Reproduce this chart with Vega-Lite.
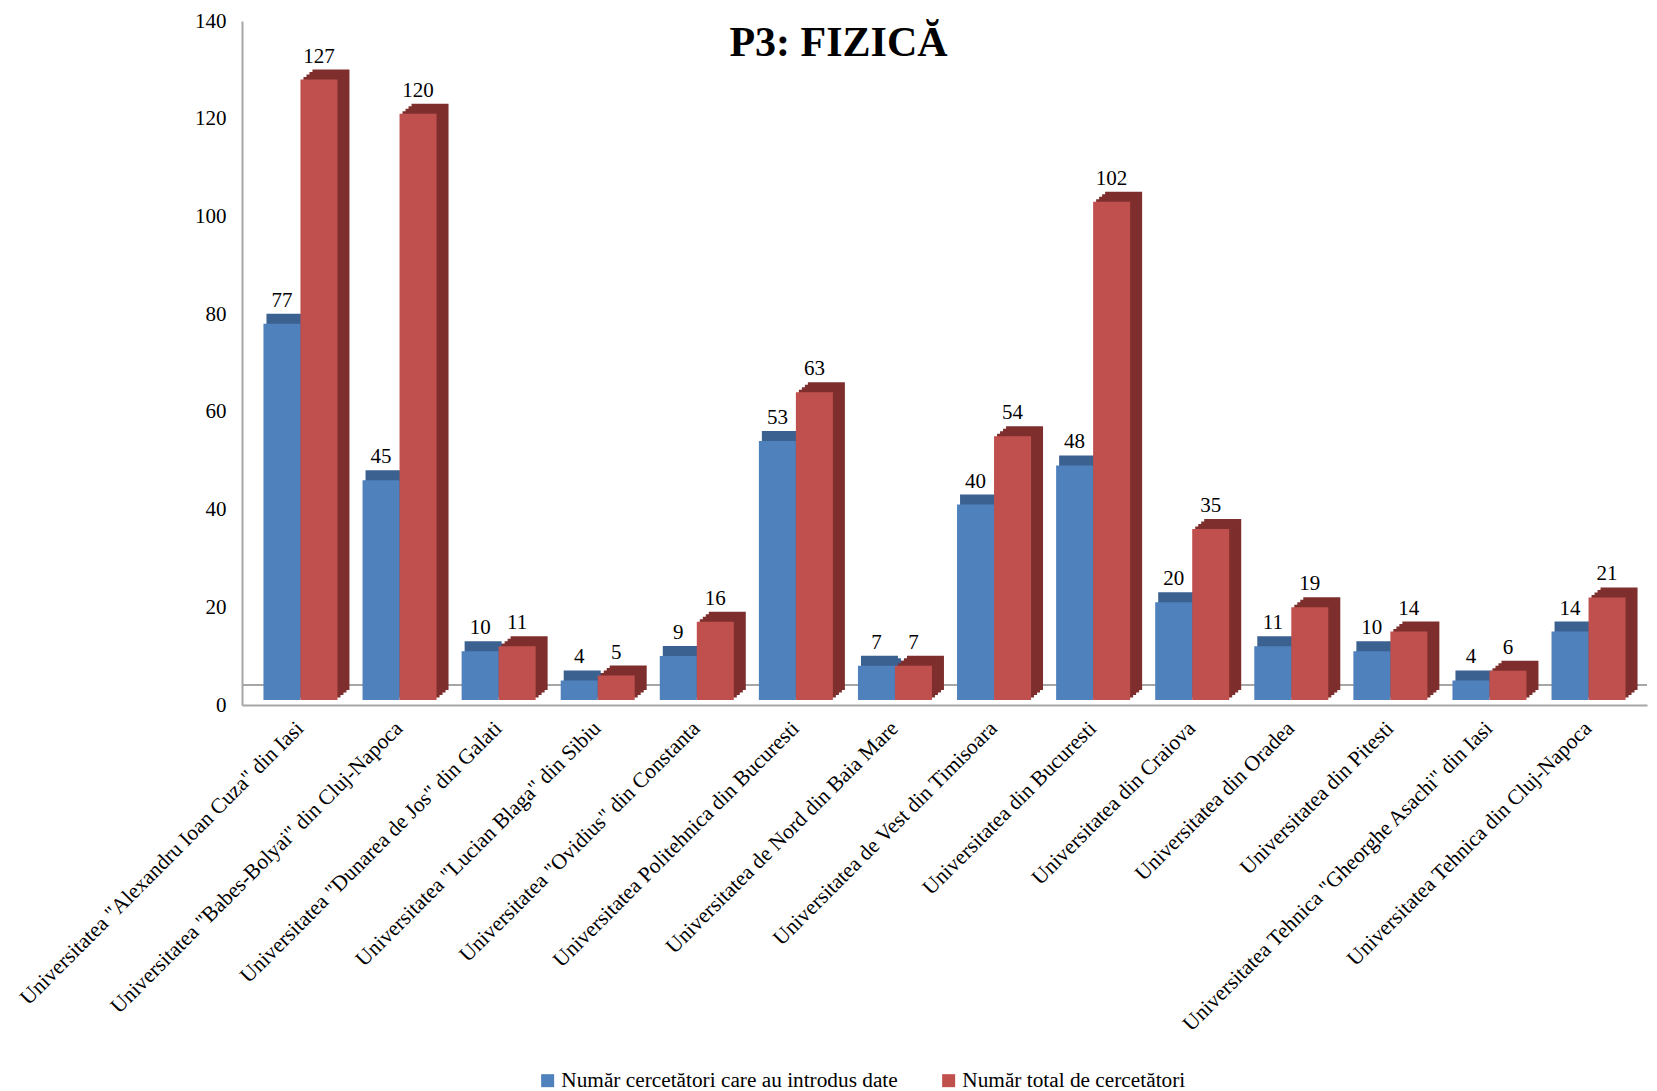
{
  "$schema": "https://vega.github.io/schema/vega-lite/v6.json",
  "autosize": {"type": "none"},
  "width": 1405,
  "height": 684,
  "padding": {"left": 242, "top": 21, "right": 10, "bottom": 386},
  "background": "white",
  "title": {
    "text": "P3: FIZICĂ",
    "font": "Liberation Serif",
    "fontSize": 42,
    "fontWeight": "bold",
    "color": "black",
    "anchor": "middle",
    "orient": "top",
    "offset": -49,
    "baseline": "alphabetic",
    "dx": -106,
    "dy": 39
  },
  "config": {
    "view": {"stroke": null},
    "font": "Liberation Serif"
  },
  "data": {
    "values": [
      {"u": "Universitatea \"Alexandru Ioan Cuza\" din Iasi", "s": "Număr cercetători care au introdus date", "v": 77},
      {"u": "Universitatea \"Alexandru Ioan Cuza\" din Iasi", "s": "Număr total de cercetători", "v": 127},
      {"u": "Universitatea \"Babes-Bolyai\" din Cluj-Napoca", "s": "Număr cercetători care au introdus date", "v": 45},
      {"u": "Universitatea \"Babes-Bolyai\" din Cluj-Napoca", "s": "Număr total de cercetători", "v": 120},
      {"u": "Universitatea \"Dunarea de Jos\" din Galati", "s": "Număr cercetători care au introdus date", "v": 10},
      {"u": "Universitatea \"Dunarea de Jos\" din Galati", "s": "Număr total de cercetători", "v": 11},
      {"u": "Universitatea \"Lucian Blaga\" din Sibiu", "s": "Număr cercetători care au introdus date", "v": 4},
      {"u": "Universitatea \"Lucian Blaga\" din Sibiu", "s": "Număr total de cercetători", "v": 5},
      {"u": "Universitatea \"Ovidius\" din Constanta", "s": "Număr cercetători care au introdus date", "v": 9},
      {"u": "Universitatea \"Ovidius\" din Constanta", "s": "Număr total de cercetători", "v": 16},
      {"u": "Universitatea Politehnica din Bucuresti", "s": "Număr cercetători care au introdus date", "v": 53},
      {"u": "Universitatea Politehnica din Bucuresti", "s": "Număr total de cercetători", "v": 63},
      {"u": "Universitatea de Nord din Baia Mare", "s": "Număr cercetători care au introdus date", "v": 7},
      {"u": "Universitatea de Nord din Baia Mare", "s": "Număr total de cercetători", "v": 7},
      {"u": "Universitatea de Vest din Timisoara", "s": "Număr cercetători care au introdus date", "v": 40},
      {"u": "Universitatea de Vest din Timisoara", "s": "Număr total de cercetători", "v": 54},
      {"u": "Universitatea din Bucuresti", "s": "Număr cercetători care au introdus date", "v": 48},
      {"u": "Universitatea din Bucuresti", "s": "Număr total de cercetători", "v": 102},
      {"u": "Universitatea din Craiova", "s": "Număr cercetători care au introdus date", "v": 20},
      {"u": "Universitatea din Craiova", "s": "Număr total de cercetători", "v": 35},
      {"u": "Universitatea din Oradea", "s": "Număr cercetători care au introdus date", "v": 11},
      {"u": "Universitatea din Oradea", "s": "Număr total de cercetători", "v": 19},
      {"u": "Universitatea din Pitesti", "s": "Număr cercetători care au introdus date", "v": 10},
      {"u": "Universitatea din Pitesti", "s": "Număr total de cercetători", "v": 14},
      {"u": "Universitatea Tehnica \"Gheorghe Asachi\" din Iasi", "s": "Număr cercetători care au introdus date", "v": 4},
      {"u": "Universitatea Tehnica \"Gheorghe Asachi\" din Iasi", "s": "Număr total de cercetători", "v": 6},
      {"u": "Universitatea Tehnica din Cluj-Napoca", "s": "Număr cercetători care au introdus date", "v": 14},
      {"u": "Universitatea Tehnica din Cluj-Napoca", "s": "Număr total de cercetători", "v": 21}
    ]
  },
  "encoding": {
    "x": {
      "field": "u",
      "type": "nominal",
      "sort": null,
      "scale": {"paddingInner": 0.26, "paddingOuter": 0.22},
      "axis": {
        "title": null,
        "labelAngle": -45,
        "labelAlign": "right",
        "labelBaseline": "middle",
        "labelFont": "Liberation Serif",
        "labelFontSize": 21.5,
        "labelColor": "black",
        "labelPadding": 20,
        "labelLimit": 700,
        "ticks": false,
        "domainColor": "#A6A6A6",
        "domainWidth": 2
      }
    },
    "y": {
      "field": "v",
      "type": "quantitative",
      "scale": {"domain": [0, 140]},
      "axis": {
        "title": null,
        "values": [0, 20, 40, 60, 80, 100, 120, 140],
        "grid": false,
        "ticks": false,
        "labelFont": "Liberation Serif",
        "labelFontSize": 21,
        "labelColor": "black",
        "labelPadding": 16,
        "domainColor": "#A6A6A6",
        "domainWidth": 2
      }
    }
  },
  "layer": [
    {
      "mark": {"type": "rule", "color": "#A6A6A6", "strokeWidth": 2, "yOffset": -20},
      "encoding": {"y": {"datum": 0}, "x": null}
    },
    {"transform": [{"filter": "datum.s === 'Număr cercetători care au introdus date'"}], "mark": {"type": "bar", "width": 37, "xOffset": -6.5, "yOffset": -7.5, "color": "#3B6191"}},
    {"transform": [{"filter": "datum.s === 'Număr cercetători care au introdus date'"}], "mark": {"type": "bar", "width": 37, "xOffset": -9.5, "yOffset": -10, "color": "#3B6191"}},
    {"transform": [{"filter": "datum.s === 'Număr cercetători care au introdus date'"}], "mark": {"type": "bar", "width": 37, "xOffset": -12.5, "yOffset": -12.5, "color": "#3B6191"}},
    {"transform": [{"filter": "datum.s === 'Număr cercetători care au introdus date'"}], "mark": {"type": "bar", "width": 37, "xOffset": -15.5, "yOffset": -15, "color": "#3B6191"}},
    {"transform": [{"filter": "datum.s === 'Număr total de cercetători'"}], "mark": {"type": "bar", "width": 37, "xOffset": 30.5, "yOffset": -15, "color": "#7E2F2D"}},
    {"transform": [{"filter": "datum.s === 'Număr total de cercetători'"}], "mark": {"type": "bar", "width": 37, "xOffset": 27.5, "yOffset": -12.5, "color": "#7E2F2D"}},
    {"transform": [{"filter": "datum.s === 'Număr total de cercetători'"}], "mark": {"type": "bar", "width": 37, "xOffset": 24.5, "yOffset": -10, "color": "#7E2F2D"}},
    {"transform": [{"filter": "datum.s === 'Număr total de cercetători'"}], "mark": {"type": "bar", "width": 37, "xOffset": 21.5, "yOffset": -7.5, "color": "#7E2F2D"}},
    {
      "transform": [{"filter": "datum.s === 'Număr cercetători care au introdus date'"}],
      "mark": {"type": "bar", "width": 37, "xOffset": -18.5, "yOffset": -5},
      "encoding": {
        "color": {
          "field": "s", "type": "nominal",
          "scale": {"domain": ["Număr cercetători care au introdus date", "Număr total de cercetători"], "range": ["#4F81BD", "#C0504D"]},
          "legend": {
            "title": null,
            "orient": "none",
            "direction": "horizontal",
            "legendX": 295,
            "legendY": 1049,
            "symbolType": "square",
            "symbolSize": 169,
            "symbolStrokeWidth": 0,
            "labelFont": "Liberation Serif",
            "labelFontSize": 21.3,
            "labelColor": "black",
            "labelLimit": 600,
            "columnPadding": 40,
            "labelOffset": 3,
            "padding": 0
          }
        }
      }
    },
    {
      "transform": [{"filter": "datum.s === 'Număr total de cercetători'"}],
      "mark": {"type": "bar", "width": 37, "xOffset": 18.5, "yOffset": -5},
      "encoding": {"color": {"field": "s", "type": "nominal"}}
    },
    {
      "transform": [{"filter": "datum.s === 'Număr cercetători care au introdus date'"}],
      "mark": {"type": "text", "baseline": "alphabetic", "dy": -22, "xOffset": -18.5, "font": "Liberation Serif", "fontSize": 21, "color": "black"},
      "encoding": {"text": {"field": "v", "type": "quantitative"}}
    },
    {
      "transform": [{"filter": "datum.s === 'Număr total de cercetători'"}],
      "mark": {"type": "text", "baseline": "alphabetic", "dy": -22, "xOffset": 18.5, "font": "Liberation Serif", "fontSize": 21, "color": "black"},
      "encoding": {"text": {"field": "v", "type": "quantitative"}}
    }
  ]
}
